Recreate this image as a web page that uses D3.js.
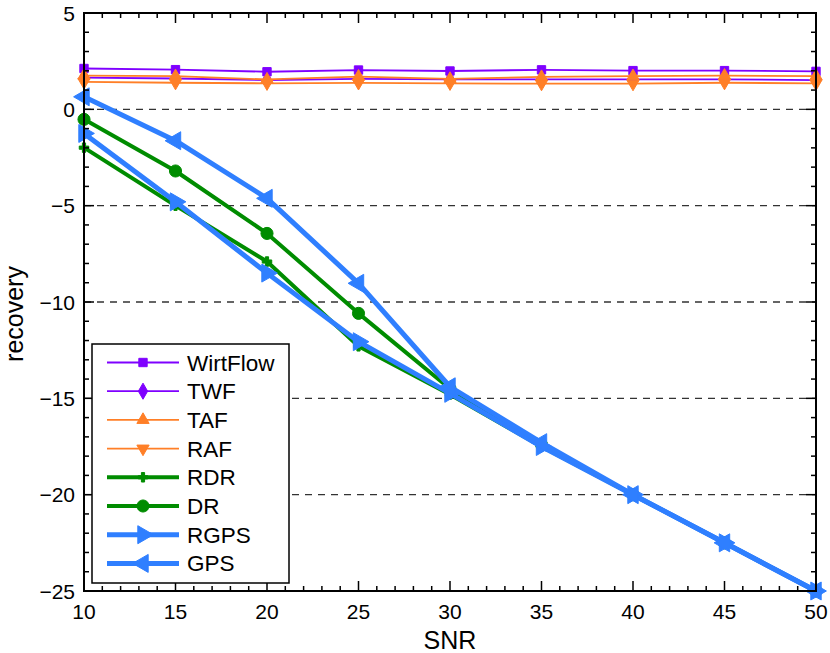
<!DOCTYPE html>
<html>
<head>
<meta charset="utf-8">
<script src="https://cdn.jsdelivr.net/npm/d3@7"></script>
<style>
  body { margin: 0; background: #fff; }
  text { font-family: "Liberation Sans", Arial, Helvetica, sans-serif; }
</style>
</head>
<body>
<div id="chart"></div>
<script>
'use strict';

// data
const snr = [10, 15, 20, 25, 30, 35, 40, 45, 50];
const wirtflow = [2.12, 2.06, 1.95, 2.04, 1.99, 2.05, 2.01, 2.01, 1.97];
const twf      = [1.65, 1.60, 1.52, 1.58, 1.55, 1.55, 1.55, 1.55, 1.52];
const taf      = [1.75, 1.72, 1.55, 1.70, 1.58, 1.68, 1.72, 1.75, 1.72];
const raf      = [1.42, 1.38, 1.35, 1.37, 1.35, 1.33, 1.33, 1.38, 1.35];
const rdr      = [-1.99, -5.0, -7.9, -12.3, -14.8, -17.5, -20.0, -22.5, -25.0];
const dr       = [-0.52, -3.2, -6.44, -10.59, -14.5, -17.4, -20.0, -22.5, -25.0];
const rgps     = [-1.25, -4.8, -8.5, -12.06, -14.74, -17.5, -20.0, -22.5, -25.0];
const gps      = [0.65, -1.63, -4.62, -9.03, -14.4, -17.3, -20.0, -22.5, -25.0];

const xTicks = [10, 15, 20, 25, 30, 35, 40, 45, 50];
const yTicks = [5, 0, -5, -10, -15, -20, -25];
const gridTicks = [0, -5, -10, -15, -20];

const series = [
  { name: 'WirtFlow', values: wirtflow, color: '#7f00ff', width: 1.8, marker: 'square' },
  { name: 'TWF',      values: twf,      color: '#7f00ff', width: 1.8, marker: 'diamond' },
  { name: 'TAF',      values: taf,      color: '#ff7f27', width: 1.8, marker: 'up' },
  { name: 'RAF',      values: raf,      color: '#ff7f27', width: 1.8, marker: 'down' },
  { name: 'RDR',      values: rdr,      color: '#008c00', width: 4,   marker: 'plus' },
  { name: 'DR',       values: dr,       color: '#008c00', width: 4,   marker: 'circle' },
  { name: 'RGPS',     values: rgps,     color: '#2f7fff', width: 5,   marker: 'right' },
  { name: 'GPS',      values: gps,      color: '#2f7fff', width: 5,   marker: 'left' }
];

const W = 830, H = 653;
const margin = { top: 13, right: 14, bottom: 62, left: 84 };
const iw = W - margin.left - margin.right,
      ih = H - margin.top - margin.bottom;

const svg = d3.select('#chart').append('svg').attr('width', W).attr('height', H);
const g = svg.append('g').attr('transform', `translate(${margin.left},${margin.top})`);

const x = d3.scaleLinear().domain([10, 50]).range([0, iw]);
const y = d3.scaleLinear().domain([-25, 5]).range([ih, 0]);

// dashed grid
g.selectAll('.grid').data(gridTicks).enter().append('line')
  .attr('x1', 0).attr('x2', iw)
  .attr('y1', d => y(d)).attr('y2', d => y(d))
  .attr('stroke', '#333').attr('stroke-width', 1.3)
  .attr('stroke-dasharray', '7,6');

// marker shapes
function markerPath(type) {
  switch (type) {
    case 'square':  return { d: d3.symbol(d3.symbolSquare, 70)(), rot: 0 };
    case 'diamond': return { d: d3.symbol(d3.symbolDiamond, 75)(), rot: 0 };
    case 'up':      return { d: d3.symbol(d3.symbolTriangle, 65)(), rot: 0 };
    case 'down':    return { d: d3.symbol(d3.symbolTriangle, 65)(), rot: 180 };
    case 'plus':    return { d: d3.symbol(d3.symbolCross, 50)(), rot: 0 };
    case 'circle':  return { d: d3.symbol(d3.symbolCircle, 115)(), rot: 0 };
    case 'right':   return { d: d3.symbol(d3.symbolTriangle, 140)(), rot: 90 };
    case 'left':    return { d: d3.symbol(d3.symbolTriangle, 140)(), rot: -90 };
  }
}

const line = d3.line().x((d, i) => x(snr[i])).y(d => y(d));

series.forEach(s => {
  const sg = g.append('g');
  sg.append('path')
    .attr('d', line(s.values))
    .attr('fill', 'none')
    .attr('stroke', s.color)
    .attr('stroke-width', s.width)
    .attr('stroke-linejoin', 'round');
  const m = markerPath(s.marker);
  sg.selectAll('.mk').data(s.values).enter().append('path')
    .attr('d', m.d)
    .attr('transform', (d, i) => `translate(${x(snr[i])},${y(d)}) rotate(${m.rot})`)
    .attr('fill', s.color)
    .attr('stroke', s.color)
    .attr('stroke-width', 1);
});

// axes box with inward ticks on all sides
const axisG = g.append('g');
const minorX = d3.range(10, 51, 1).filter(v => v % 5 !== 0);
const minorY = d3.range(-25, 6, 1).filter(v => v % 5 !== 0);

function ticks(vals, len, horizontal) {
  vals.forEach(v => {
    if (horizontal) {
      axisG.append('line').attr('x1', x(v)).attr('x2', x(v)).attr('y1', ih).attr('y2', ih - len)
        .attr('stroke', '#000').attr('stroke-width', 1.5);
      axisG.append('line').attr('x1', x(v)).attr('x2', x(v)).attr('y1', 0).attr('y2', len)
        .attr('stroke', '#000').attr('stroke-width', 1.5);
    } else {
      axisG.append('line').attr('y1', y(v)).attr('y2', y(v)).attr('x1', 0).attr('x2', len)
        .attr('stroke', '#000').attr('stroke-width', 1.5);
      axisG.append('line').attr('y1', y(v)).attr('y2', y(v)).attr('x1', iw).attr('x2', iw - len)
        .attr('stroke', '#000').attr('stroke-width', 1.5);
    }
  });
}
ticks(xTicks, 10, true);
ticks(minorX, 5, true);
ticks(yTicks, 10, false);
ticks(minorY, 5, false);

axisG.append('rect').attr('width', iw).attr('height', ih)
  .attr('fill', 'none').attr('stroke', '#000').attr('stroke-width', 2);

// tick labels
g.selectAll('.xl').data(xTicks).enter().append('text')
  .attr('x', d => x(d)).attr('y', ih + 28)
  .attr('text-anchor', 'middle').attr('font-size', 21)
  .text(d => d);
g.selectAll('.yl').data(yTicks).enter().append('text')
  .attr('x', -9).attr('y', d => y(d) + 7.5)
  .attr('text-anchor', 'end').attr('font-size', 21)
  .text(d => d < 0 ? '\u2212' + Math.abs(d) : d);

// axis labels
svg.append('text').attr('x', margin.left + iw / 2).attr('y', 649)
  .attr('text-anchor', 'middle').attr('font-size', 25).text('SNR');
svg.append('text')
  .attr('transform', `translate(23,${margin.top + ih / 2 + 12}) rotate(-90)`)
  .attr('text-anchor', 'middle').attr('font-size', 25).text('recovery');

// legend
const lg = svg.append('g').attr('transform', 'translate(92,344)');
lg.append('rect').attr('width', 197).attr('height', 239)
  .attr('fill', '#fff').attr('stroke', '#000').attr('stroke-width', 1.5);
series.forEach((s, i) => {
  const yy = 18.5 + i * 28.7;
  lg.append('line').attr('x1', 15).attr('x2', 87).attr('y1', yy).attr('y2', yy)
    .attr('stroke', s.color).attr('stroke-width', s.width);
  const m = markerPath(s.marker);
  lg.append('path').attr('d', m.d)
    .attr('transform', `translate(51,${yy}) rotate(${m.rot})`)
    .attr('fill', s.color).attr('stroke', s.color).attr('stroke-width', 1);
  lg.append('text').attr('x', 95).attr('y', yy + 8)
    .attr('font-size', 22.5).text(s.name);
});
</script>
</body>
</html>
